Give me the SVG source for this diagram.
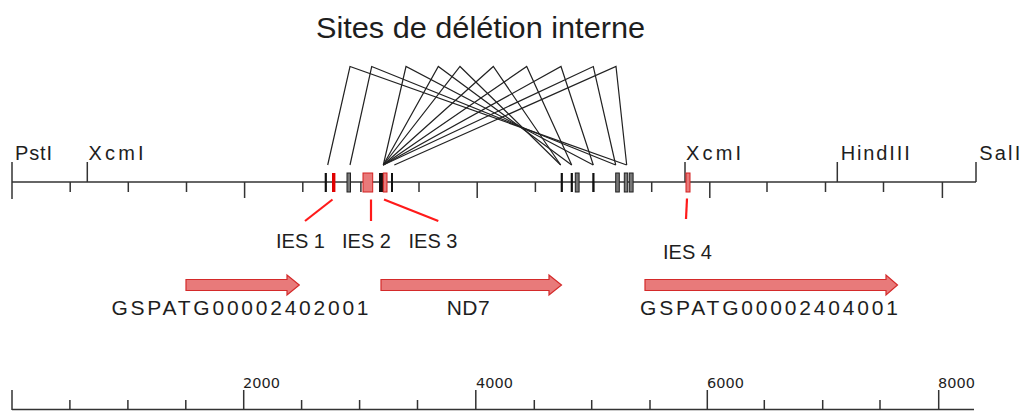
<svg xmlns="http://www.w3.org/2000/svg" width="1027" height="411" viewBox="0 0 1027 411">
<style>
text{font-family:"Liberation Sans",Arial,sans-serif;fill:#1e1e1e}
.ttl{font-size:29px}
.enz{font-size:20px}
.ies{font-size:20px}
.gene{font-size:21px}
.num{font-family:"DejaVu Sans",Verdana,sans-serif;font-size:14.5px}
.ax{stroke:#333;stroke-width:1.5;fill:none}
.tk{stroke:#333;stroke-width:1.5}
.del{fill:none;stroke:#222;stroke-width:1.2;stroke-linejoin:miter}
.blk{fill:#111}
.gry{fill:#777;stroke:#222;stroke-width:1}
.red{fill:#e00000}
.pink{fill:#e87a7a;stroke:#d42020;stroke-width:1}
.lead{stroke:#ff1a1a;stroke-width:2.2}
.arr{fill:#e87a7a;stroke:#d42a2a;stroke-width:1.2}
</style>

<text class="ttl" x="316" y="38" textLength="329" lengthAdjust="spacingAndGlyphs">Sites de délétion interne</text>

<g id="connectors">
<polyline class="del" points="327.7,165 350,66.5 626.7,165"/>
<polyline class="del" points="350,165 371.7,66.5 615.7,165"/>
<polyline class="del" points="383.3,165 406,66.5 593.3,165"/>
<polyline class="del" points="383.3,165 438.3,66.5 571.7,165"/>
<polyline class="del" points="383.3,165 460,66.5 560.7,165"/>
<polyline class="del" points="383.3,165 493.3,66.5 560.7,165"/>
<polyline class="del" points="383.3,165 526.7,66.5 571.7,165"/>
<polyline class="del" points="383.3,165 561,66.5 593.3,165"/>
<polyline class="del" points="383.3,165 593.3,66.5 615.7,165"/>
<polyline class="del" points="394.3,165 616,66.5 626.7,165"/>
</g>

<g id="map">
<line class="ax" x1="12" y1="182" x2="976" y2="182"/>
<line class="tk" x1="12" y1="162" x2="12" y2="199"/>
<line class="tk" x1="70.2" y1="182" x2="70.2" y2="192"/>
<line class="tk" x1="128.3" y1="182" x2="128.3" y2="192"/>
<line class="tk" x1="186.5" y1="182" x2="186.5" y2="192"/>
<line class="tk" x1="244.6" y1="182" x2="244.6" y2="198"/>
<line class="tk" x1="302.8" y1="182" x2="302.8" y2="192"/>
<line class="tk" x1="360.9" y1="182" x2="360.9" y2="192"/>
<line class="tk" x1="419" y1="182" x2="419" y2="192"/>
<line class="tk" x1="477.2" y1="182" x2="477.2" y2="198"/>
<line class="tk" x1="535.4" y1="182" x2="535.4" y2="192"/>
<line class="tk" x1="593.5" y1="182" x2="593.5" y2="192"/>
<line class="tk" x1="651.7" y1="182" x2="651.7" y2="192"/>
<line class="tk" x1="709.8" y1="182" x2="709.8" y2="198"/>
<line class="tk" x1="767" y1="182" x2="767" y2="192"/>
<line class="tk" x1="825.5" y1="182" x2="825.5" y2="192"/>
<line class="tk" x1="883.5" y1="182" x2="883.5" y2="192"/>
<line class="tk" x1="942.4" y1="182" x2="942.4" y2="198"/>
</g>

<g id="sites">
<line class="tk" x1="87.3" y1="162" x2="87.3" y2="182"/>
<line class="tk" x1="685" y1="162" x2="685" y2="182"/>
<line class="tk" x1="837.3" y1="162" x2="837.3" y2="182"/>
<line class="tk" x1="976" y1="162" x2="976" y2="182"/>
<text class="enz" x="15" y="160" textLength="37" lengthAdjust="spacing">PstI</text>
<text class="enz" x="88.5" y="160" textLength="55" lengthAdjust="spacing">XcmI</text>
<text class="enz" x="686" y="160" textLength="55" lengthAdjust="spacing">XcmI</text>
<text class="enz" x="840.7" y="160" textLength="69" lengthAdjust="spacing">HindIII</text>
<text class="enz" x="979.3" y="160" textLength="41" lengthAdjust="spacing">SalI</text>
</g>

<g id="bars">
<rect class="blk" x="324.7" y="173" width="2.2" height="19"/>
<rect class="red" x="332" y="173" width="3.4" height="19"/>
<rect class="gry" x="347" y="173" width="3.5" height="19"/>
<rect class="pink" x="363" y="173" width="9.7" height="19"/>
<rect class="blk" x="379" y="173" width="4.3" height="19"/>
<rect class="pink" x="383.3" y="173" width="3.7" height="19"/>
<rect class="blk" x="391" y="173" width="2" height="19"/>
<rect class="blk" x="560.7" y="173" width="2.2" height="19"/>
<rect class="blk" x="570.7" y="173" width="2.2" height="19"/>
<rect class="gry" x="575.3" y="173" width="3.8" height="19"/>
<rect class="blk" x="592.3" y="173" width="2.2" height="19"/>
<rect class="gry" x="615.7" y="173" width="3.6" height="19"/>
<rect class="gry" x="624.3" y="173" width="3.4" height="19"/>
<rect class="gry" x="629.3" y="173" width="3.8" height="19"/>
<rect class="pink" x="686" y="173" width="4" height="19"/>
</g>

<g id="ies1">
<line class="lead" x1="332.5" y1="199.5" x2="305" y2="221"/>
<text class="ies" x="276" y="248">IES 1</text>
</g>
<g id="ies2">
<line class="lead" x1="371" y1="199.5" x2="371" y2="221"/>
<text class="ies" x="342" y="248">IES 2</text>
</g>
<g id="ies3">
<line class="lead" x1="384" y1="199.5" x2="438.3" y2="221"/>
<text class="ies" x="408.5" y="248">IES 3</text>
</g>
<g id="ies4">
<line class="lead" x1="687" y1="198.5" x2="686" y2="219"/>
<text class="ies" x="663" y="259">IES 4</text>
</g>

<g id="gene1">
<polygon class="arr" points="186,279.5 287,279.5 287,275 299.3,285 287,295 287,290.5 186,290.5"/>
<text class="gene" x="111.5" y="315" textLength="257" lengthAdjust="spacing">GSPATG00002402001</text>
</g>
<g id="gene2">
<polygon class="arr" points="381,279.5 549,279.5 549,275 561.5,285 549,295 549,290.5 381,290.5"/>
<text class="gene" x="446.7" y="315" textLength="43" lengthAdjust="spacing">ND7</text>
</g>
<g id="gene3">
<polygon class="arr" points="645,279.5 886,279.5 886,275 897.5,285 886,295 886,290.5 645,290.5"/>
<text class="gene" x="640" y="315" textLength="258" lengthAdjust="spacing">GSPATG00002404001</text>
</g>

<g id="scale">
<line class="ax" x1="12" y1="409.5" x2="974" y2="409.5"/>
<line class="tk" x1="12" y1="390" x2="12" y2="410"/>
<line class="tk" x1="69.9" y1="400" x2="69.9" y2="410"/>
<line class="tk" x1="127.9" y1="400" x2="127.9" y2="410"/>
<line class="tk" x1="185.8" y1="400" x2="185.8" y2="410"/>
<line class="tk" x1="243.7" y1="390" x2="243.7" y2="410"/>
<line class="tk" x1="301.6" y1="400" x2="301.6" y2="410"/>
<line class="tk" x1="359.6" y1="400" x2="359.6" y2="410"/>
<line class="tk" x1="417.5" y1="400" x2="417.5" y2="410"/>
<line class="tk" x1="475.8" y1="390" x2="475.8" y2="410"/>
<line class="tk" x1="534.3" y1="400" x2="534.3" y2="410"/>
<line class="tk" x1="591.7" y1="400" x2="591.7" y2="410"/>
<line class="tk" x1="650" y1="400" x2="650" y2="410"/>
<line class="tk" x1="707.3" y1="390" x2="707.3" y2="410"/>
<line class="tk" x1="764.3" y1="400" x2="764.3" y2="410"/>
<line class="tk" x1="822.7" y1="400" x2="822.7" y2="410"/>
<line class="tk" x1="880" y1="400" x2="880" y2="410"/>
<line class="tk" x1="938.7" y1="390" x2="938.7" y2="410"/>
<text class="num" x="243" y="388">2000</text>
<text class="num" x="476" y="388">4000</text>
<text class="num" x="707" y="388">6000</text>
<text class="num" x="938" y="388">8000</text>
</g>
</svg>
